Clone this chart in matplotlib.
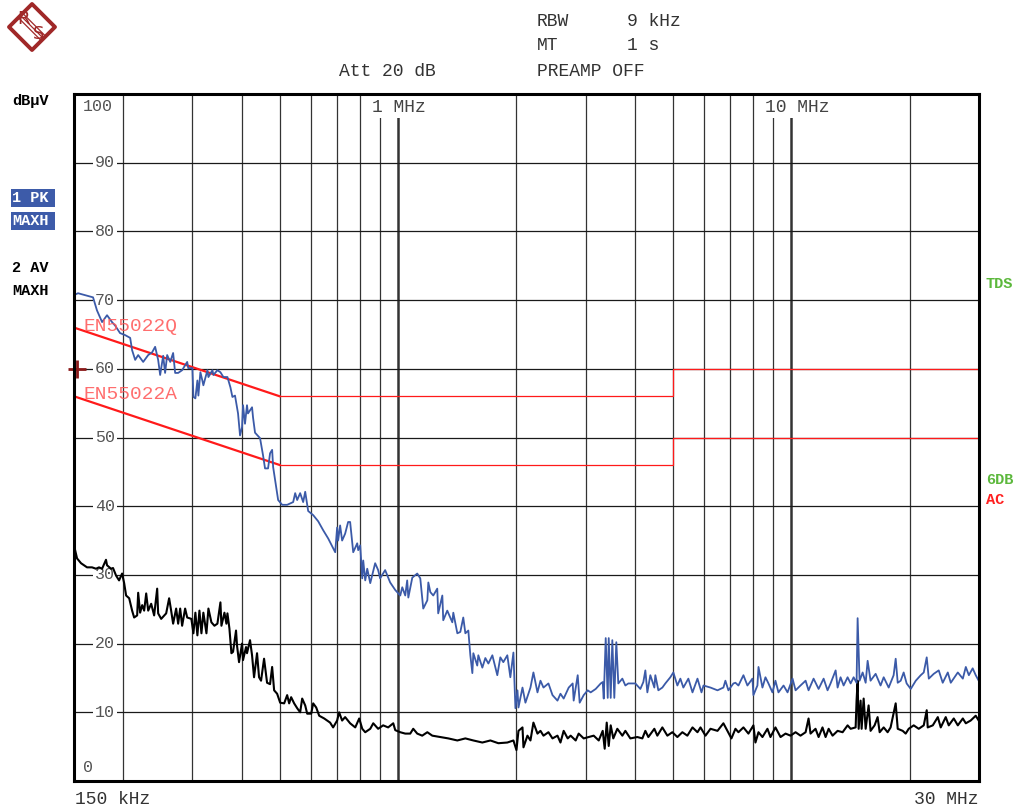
import matplotlib
matplotlib.use("Agg")
import matplotlib.pyplot as plt
import matplotlib.transforms as mtransforms
from matplotlib.patches import Polygon, Rectangle
from matplotlib.lines import Line2D

MONO = "Liberation Mono"

# trace 1: PK max hold (MHz, dBuV)
pk_freq = [0.1509, 0.1536, 0.1677, 0.1716, 0.1768, 0.182, 0.1874, 0.1908, 0.1964, 0.2024,
           0.2084, 0.2108, 0.2146, 0.2184, 0.2249, 0.2316, 0.237, 0.2412, 0.2455, 0.2484,
           0.2528, 0.2557, 0.2588, 0.2635, 0.268, 0.2712, 0.276, 0.2825, 0.291, 0.2928,
           0.300, 0.3018, 0.3053, 0.3089, 0.3107, 0.3144, 0.318, 0.3199, 0.3276, 0.3295,
           0.3373, 0.3393, 0.3473, 0.3535, 0.3597, 0.3683, 0.3748, 0.3792, 0.385, 0.3919,
           0.3965, 0.4012, 0.4035, 0.4082, 0.413, 0.4154, 0.4254, 0.4279, 0.4329, 0.4458,
           0.4537, 0.459, 0.4672, 0.4727, 0.4785, 0.4813, 0.487, 0.4956, 0.5074, 0.5225,
           0.5412, 0.5476, 0.554, 0.5638, 0.5738, 0.5807, 0.5909, 0.6085, 0.6266, 0.6452,
           0.6644, 0.6922, 0.700, 0.7041, 0.7124, 0.7208, 0.7336, 0.7466, 0.7554, 0.7647,
           0.7692, 0.7874, 0.792, 0.8014, 0.8109, 0.8156, 0.8252, 0.835, 0.8498, 0.8746,
           0.890, 0.9005, 0.9273, 0.9437, 0.9549, 0.9838, 1.013, 1.025, 1.043, 1.055,
           1.062, 1.087, 1.119, 1.139, 1.159, 1.187, 1.194, 1.208, 1.229, 1.258,
           1.265, 1.296, 1.303, 1.334, 1.374, 1.382, 1.415, 1.44, 1.465, 1.483,
           1.509, 1.527, 1.545, 1.554, 1.590, 1.600, 1.638, 1.667, 1.697, 1.737,
           1.788, 1.820, 1.852, 1.896, 1.930, 1.965, 1.988, 2.012, 2.024, 2.072,
           2.108, 2.171, 2.209, 2.262, 2.302, 2.343, 2.412, 2.470, 2.543, 2.588,
           2.637, 2.716, 2.780, 2.796, 2.863, 2.896, 2.965, 3.035, 3.089, 3.181,
           3.276, 3.314, 3.334, 3.373, 3.413, 3.433, 3.473, 3.506, 3.547, 3.589,
           3.631, 3.718, 3.784, 3.850, 4.012, 4.131, 4.204, 4.254, 4.304, 4.380,
           4.484, 4.510, 4.590, 4.699, 4.782, 4.924, 5.012, 5.131, 5.222, 5.314,
           5.472, 5.606, 5.772, 5.909, 5.979, 6.229, 6.49, 6.718, 6.797, 6.918,
           7.124, 7.209, 7.336, 7.554, 7.732, 7.962, 8.009, 8.199, 8.25, 8.443,
           8.593, 8.746, 8.952, 9.111, 9.273, 9.554, 9.780, 10.07, 10.25, 10.55,
           10.87, 11.06, 11.39, 11.73, 12.08, 12.36, 12.58, 12.96, 13.11, 13.34,
           13.58, 13.90, 14.15, 14.40, 14.65, 14.74, 14.91, 15.18, 15.45, 15.63,
           15.90, 16.38, 16.86, 17.17, 17.68, 18.20, 18.42, 18.64, 18.97, 19.30,
           19.64, 20.12, 20.72, 21.33, 21.71, 22.09, 22.36, 23.02, 23.70, 24.26,
           24.99, 25.43, 26.50, 27.29, 27.77, 28.27, 28.91, 29.43, 29.95]
pk_level = [70.8, 71.0, 70.4, 68.5, 66.8, 67.8, 66.8, 66.3, 65.2, 64.9,
            64.5, 62.7, 61.3, 62.0, 61.0, 62.0, 62.4, 63.2, 61.3, 59.1,
            61.9, 59.4, 62.0, 61.0, 62.3, 59.4, 59.4, 59.8, 61.0, 60.1,
            60.1, 55.9, 55.7, 58.3, 56.1, 59.5, 58.3, 57.6, 59.8, 58.8,
            59.8, 59.1, 59.8, 59.5, 58.8, 58.8, 57.3, 55.9, 56.1, 53.5,
            50.3, 51.5, 54.7, 52.0, 54.7, 53.5, 54.4, 52.9, 50.7, 49.9,
            47.4, 45.5, 45.5, 47.7, 48.2, 45.7, 43.8, 40.9, 40.2, 40.2,
            40.6, 41.9, 40.9, 41.9, 40.6, 42.1, 39.3, 38.7, 37.8, 36.5,
            35.3, 33.3, 36.9, 35.0, 37.2, 35.0, 36.0, 37.7, 37.7, 34.7,
            33.3, 34.6, 33.6, 34.3, 29.5, 32.1, 29.2, 30.9, 28.8, 31.7,
            30.7, 29.5, 30.7, 29.6, 28.9, 27.8, 27.0, 28.2, 27.0, 29.2,
            26.7, 29.6, 30.2, 29.5, 25.1, 26.3, 28.9, 27.5, 27.0, 28.0,
            24.4, 27.0, 23.4, 24.8, 23.1, 24.5, 21.5, 21.7, 23.8, 21.5,
            21.9, 18.3, 15.7, 18.6, 16.8, 18.3, 16.5, 17.9, 17.1, 18.3,
            15.4, 18.0, 17.3, 18.3, 15.1, 18.7, 10.6, 13.2, 10.7, 13.6,
            11.4, 13.6, 15.8, 12.9, 14.6, 13.6, 14.2, 12.5, 11.7, 12.7,
            12.0, 13.6, 14.2, 11.7, 15.4, 11.4, 12.5, 13.2, 12.9, 13.4,
            14.2, 14.4, 12.0, 20.8, 12.1, 20.8, 12.1, 20.5, 12.1, 20.2,
            14.2, 14.9, 13.9, 14.2, 14.2, 13.4, 14.4, 16.1, 12.9, 15.4,
            13.6, 15.4, 13.2, 13.6, 14.2, 15.1, 15.8, 13.9, 14.9, 13.6,
            14.9, 12.9, 14.9, 12.9, 13.9, 13.6, 13.2, 13.6, 14.6, 13.2,
            14.2, 14.3, 13.9, 15.4, 13.9, 14.9, 12.5, 13.9, 16.6, 13.6,
            15.1, 14.2, 12.9, 14.6, 12.9, 13.9, 12.9, 14.9, 13.2, 13.9,
            14.6, 13.2, 14.9, 13.4, 14.9, 13.2, 14.2, 16.1, 13.6, 15.1,
            13.9, 15.1, 14.2, 15.1, 14.3, 23.7, 14.6, 15.8, 14.3, 17.5,
            14.6, 15.6, 13.9, 15.1, 13.6, 15.4, 17.8, 14.3, 14.6, 15.8,
            14.2, 13.4, 14.6, 15.4, 15.8, 18.0, 14.9, 15.6, 16.1, 14.3,
            15.8, 14.3, 15.8, 14.9, 16.6, 15.4, 16.4, 15.4, 14.6]

# trace 2: AV max hold (MHz, dBuV)
av_freq = [0.150, 0.1527, 0.1563, 0.1619, 0.1667, 0.1706, 0.1737, 0.1768, 0.1809, 0.182,
           0.1863, 0.1885, 0.1919, 0.1953, 0.1988, 0.2012, 0.2035, 0.2072, 0.2108, 0.2133,
           0.2171, 0.2184, 0.2209, 0.2236, 0.2262, 0.2289, 0.2316, 0.2357, 0.2398, 0.2441,
           0.2455, 0.2499, 0.2573, 0.2618, 0.2649, 0.268, 0.2728, 0.276, 0.2793, 0.2825,
           0.2875, 0.291, 0.2982, 0.3018, 0.3053, 0.3089, 0.3126, 0.3163, 0.3199, 0.3257,
           0.3295, 0.3353, 0.3413, 0.3473, 0.3535, 0.3556, 0.3619, 0.3661, 0.3683, 0.3726,
           0.377, 0.3806, 0.3873, 0.3896, 0.3942, 0.4012, 0.4035, 0.4107, 0.413, 0.4204,
           0.4254, 0.4304, 0.438, 0.4432, 0.4484, 0.4564, 0.4645, 0.4727, 0.4785, 0.4841,
           0.4927, 0.5015, 0.5134, 0.5225, 0.5286, 0.5348, 0.5443, 0.554, 0.5638, 0.5705,
           0.5807, 0.5875, 0.6014, 0.6085, 0.6193, 0.6303, 0.649, 0.6718, 0.6838, 0.700,
           0.7083, 0.7208, 0.7336, 0.7554, 0.7783, 0.7967, 0.8109, 0.8252, 0.8498, 0.8649,
           0.890, 0.9165, 0.9437, 0.9723, 0.9838, 1.013, 1.043, 1.074, 1.093, 1.119,
           1.152, 1.187, 1.222, 1.281, 1.342, 1.415, 1.483, 1.554, 1.638, 1.717,
           1.799, 1.896, 1.965, 2.000, 2.024, 2.072, 2.084, 2.133, 2.171, 2.209,
           2.262, 2.302, 2.343, 2.412, 2.470, 2.543, 2.588, 2.637, 2.700, 2.747,
           2.829, 2.879, 2.965, 3.053, 3.144, 3.238, 3.314, 3.353, 3.393, 3.433,
           3.473, 3.526, 3.610, 3.718, 3.784, 3.896, 4.059, 4.180, 4.254, 4.329,
           4.484, 4.563, 4.699, 4.839, 4.982, 5.131, 5.283, 5.440, 5.606, 5.772,
           5.875, 6.049, 6.229, 6.49, 6.718, 6.878, 7.041, 7.209, 7.336, 7.554,
           7.778, 8.009, 8.104, 8.25, 8.443, 8.694, 8.849, 9.111, 9.387, 9.666,
           9.953, 10.25, 10.55, 10.87, 11.06, 11.19, 11.52, 11.73, 12.00, 12.22,
           12.44, 12.73, 13.11, 13.50, 13.90, 14.15, 14.57, 14.65, 14.74, 14.83,
           15.00, 15.09, 15.27, 15.45, 15.72, 15.90, 16.28, 16.57, 16.77, 17.17,
           17.57, 17.88, 18.42, 18.64, 19.19, 19.53, 19.88, 20.47, 21.08, 21.71,
           22.09, 22.22, 22.89, 23.57, 23.98, 24.69, 25.13, 25.88, 26.50, 27.29,
           27.77, 28.57, 29.43, 29.95]
av_level = [34.3, 32.4, 31.7, 31.1, 31.1, 30.9, 31.1, 30.9, 32.2, 31.4,
            30.9, 31.0, 29.9, 29.2, 30.2, 28.8, 27.0, 26.6, 24.8, 23.8,
            24.1, 27.4, 24.5, 25.6, 24.8, 27.3, 24.8, 25.8, 24.1, 28.0,
            24.4, 23.6, 24.4, 26.6, 24.8, 22.9, 25.1, 22.9, 25.1, 22.6,
            25.1, 23.8, 23.6, 21.5, 24.5, 21.2, 24.8, 21.5, 24.5, 21.5,
            25.1, 23.1, 22.6, 22.9, 26.0, 22.6, 24.5, 22.9, 24.4, 22.2,
            18.6, 18.8, 21.9, 19.7, 17.3, 20.0, 17.6, 19.5, 18.6, 20.5,
            18.3, 15.1, 18.6, 15.1, 14.6, 17.8, 14.3, 14.1, 16.6, 13.2,
            12.7, 11.4, 11.3, 12.5, 11.3, 12.2, 11.3, 10.6, 10.0, 12.0,
            11.0, 9.8, 9.8, 11.3, 10.7, 9.5, 9.1, 8.5, 7.8, 8.8,
            10.0, 8.8, 9.3, 8.4, 7.8, 9.1, 7.6, 7.1, 7.6, 8.4,
            7.6, 8.1, 7.8, 8.4, 7.4, 7.1, 6.9, 6.9, 7.6, 6.9,
            6.6, 7.1, 6.6, 6.4, 6.2, 5.9, 6.2, 5.9, 5.6, 5.9,
            5.5, 5.6, 5.9, 4.5, 7.3, 7.8, 4.9, 6.6, 5.9, 8.5,
            6.9, 7.3, 6.6, 7.1, 6.2, 6.6, 5.6, 7.3, 6.2, 6.6,
            5.9, 6.9, 6.2, 6.4, 6.6, 5.9, 7.3, 4.7, 8.5, 5.1,
            8.1, 6.2, 7.6, 6.6, 7.3, 6.2, 6.4, 6.2, 7.3, 6.4,
            7.6, 6.6, 7.8, 6.6, 7.1, 6.4, 7.1, 6.6, 7.8, 7.1,
            7.8, 6.6, 7.6, 7.3, 8.4, 7.3, 6.2, 7.6, 7.1, 7.8,
            6.9, 8.1, 5.6, 7.1, 6.4, 7.6, 6.4, 7.8, 6.4, 6.9,
            6.6, 7.1, 6.6, 7.1, 9.1, 6.9, 7.6, 6.4, 7.8, 6.4,
            7.6, 6.6, 7.3, 7.1, 8.1, 7.6, 7.8, 11.7, 14.6, 7.6,
            11.7, 7.6, 12.0, 7.6, 11.0, 7.3, 8.1, 9.3, 7.1, 7.8,
            7.1, 7.8, 11.3, 7.6, 7.3, 6.9, 7.6, 8.1, 7.6, 8.1,
            10.3, 7.8, 8.1, 9.3, 7.8, 9.3, 8.1, 9.1, 8.1, 9.1,
            8.4, 8.8, 9.5, 8.8]

# EN55022 class B limit lines
lim_freq = [0.15, 0.5, 5.0, 5.0, 30.0]
lim_q = [66, 56, 56, 60, 60]
lim_a = [56, 46, 46, 50, 50]

grid_minor = [0.2, 0.3, 0.4, 0.5, 0.6, 0.7, 0.8, 0.9, 2, 3, 4, 5, 6, 7, 8, 9, 20]
grid_major = [1, 10]
level_ticks = [10, 20, 30, 40, 50, 60, 70, 80, 90]

W, H = 1020, 807
fig = plt.figure(figsize=(W / 100, H / 100), dpi=100)
ax = fig.add_axes([74 / W, 1 - 781 / H, 905 / W, 687 / H])
ax.set_xscale("log")
ax.set_xlim(0.15, 30)
ax.set_ylim(0, 100)
ax.tick_params(which="both", length=0, labelbottom=False, labelleft=False)
for s in ax.spines.values():
    s.set_linewidth(2.2)
    s.set_color("black")
    s.set_zorder(10)


def fx(x):
    return x / W


def fy(y):
    return 1 - y / H


for f in grid_minor:
    ax.axvline(f, color="#333333", lw=0.9, zorder=1)
for f in grid_major:
    ax.axvline(f, color="#333333", lw=1.8, zorder=1)
for v in level_ticks:
    ax.axhline(v, color="#1a1a1a", lw=0.9, zorder=1)

# level labels inside the plot (under the traces)
trans = mtransforms.blended_transform_factory(ax.transAxes, ax.transData)
box = dict(facecolor="white", edgecolor="none", pad=1.5)
for v in level_ticks:
    ax.text(0.023, v, str(v), transform=trans, ha="left", va="center",
            fontsize=12, family=MONO, color="#555555", bbox=box, zorder=2)
ax.text(0.010, 98.2, "100", transform=trans, ha="left", va="center",
        fontsize=12, family=MONO, color="#555555", bbox=box, zorder=2)
ax.text(0.010, 2.0, "0", transform=trans, ha="left", va="center",
        fontsize=12, family=MONO, color="#555555", zorder=2)

trans_x = mtransforms.blended_transform_factory(ax.transData, ax.transAxes)
ax.text(0.86, 0.981, "1 MHz", transform=trans_x, ha="left", va="center",
        fontsize=13, family=MONO, color="#444444", bbox=box, zorder=2)
ax.text(8.55, 0.981, "10 MHz", transform=trans_x, ha="left", va="center",
        fontsize=13, family=MONO, color="#444444", bbox=box, zorder=2)

# limit lines
red = "#ff1a1a"
ax.plot(lim_freq[:2], lim_q[:2], color=red, lw=1.6, zorder=3)
ax.plot(lim_freq[1:], lim_q[1:], color=red, lw=0.9, zorder=3)
ax.plot(lim_freq[:2], lim_a[:2], color=red, lw=1.6, zorder=3)
ax.plot(lim_freq[1:], lim_a[1:], color=red, lw=0.9, zorder=3)

ax.plot(av_freq, av_level, color="black", lw=1.5, zorder=4)
ax.plot(pk_freq, pk_level, color="#3b5aa8", lw=1.3, zorder=5)

ax.text(0.011, 0.662, "EN55022Q", transform=ax.transAxes, ha="left", va="center",
        fontsize=14, family=MONO, color="#ff5555", alpha=0.85, zorder=7)
ax.text(0.011, 0.562, "EN55022A", transform=ax.transAxes, ha="left", va="center",
        fontsize=14, family=MONO, color="#ff5555", alpha=0.85, zorder=7)
ax.plot([0.153], [60], marker="+", ms=13, mew=2, color="#8b1a1a", zorder=8,
        clip_on=False)

# header
hdr = dict(fontsize=13, family=MONO, color="#333333", va="center", ha="left")
fig.text(fx(537), fy(21), "RBW", **hdr)
fig.text(fx(627), fy(21), "9 kHz", **hdr)
fig.text(fx(537), fy(46), "MT", **hdr)
fig.text(fx(627), fy(46), "1 s", **hdr)
fig.text(fx(339), fy(72), "Att 20 dB", **hdr)
fig.text(fx(537), fy(72), "PREAMP OFF", **hdr)

fig.text(fx(75), fy(800), "150 kHz", **hdr)
fig.text(fx(979), fy(800), "30 MHz", fontsize=13, family=MONO, color="#333333",
         va="center", ha="right")

# left annotations
side = dict(fontsize=11, family=MONO, weight="bold", va="center", ha="left")
fig.text(fx(12), fy(101), "dBµV", color="black", **side)
blue = "#3d5ba9"
fig.patches.append(Rectangle((fx(11), fy(207)), 44 / W, 18 / H, transform=fig.transFigure,
                             facecolor=blue, edgecolor="none"))
fig.patches.append(Rectangle((fx(11), fy(230)), 44 / W, 18 / H, transform=fig.transFigure,
                             facecolor=blue, edgecolor="none"))
fig.text(fx(12), fy(198), "1 PK", color="white", **side)
fig.text(fx(12), fy(221), "MAXH", color="white", **side)
fig.text(fx(12), fy(268), "2 AV", color="black", **side)
fig.text(fx(12), fy(291), "MAXH", color="black", **side)

fig.text(fx(986), fy(284), "TDS", color="#5cb83c", **side)
fig.text(fx(986), fy(480), "6DB", color="#5cb83c", **side)
fig.text(fx(986), fy(500), "AC", color="#ff2020", **side)

# R&S logo
logo = "#a02828"
cx, cy, r = 32, 27, 23
fig.patches.append(Polygon([(fx(cx - r), fy(cy)), (fx(cx), fy(cy - r)), (fx(cx + r), fy(cy)),
                            (fx(cx), fy(cy + r))], closed=True, transform=fig.transFigure,
                           facecolor="white", edgecolor=logo, lw=2.8, joinstyle="round"))
for k in (-2.2, 0, 2.2):
    fig.lines.append(Line2D([fx(cx - r / 2 + k), fx(cx + r / 2 + k)],
                            [fy(cy - r / 2 - k), fy(cy + r / 2 - k)],
                            transform=fig.transFigure, color=logo, lw=0.9))
fig.text(fx(24), fy(19), "R", fontsize=13, family="DejaVu Sans", color=logo,
         ha="center", va="center")
fig.text(fx(39), fy(34), "S", fontsize=13, family="DejaVu Sans", color=logo,
         ha="center", va="center")

fig.savefig("out.png", dpi=100, facecolor="white")
